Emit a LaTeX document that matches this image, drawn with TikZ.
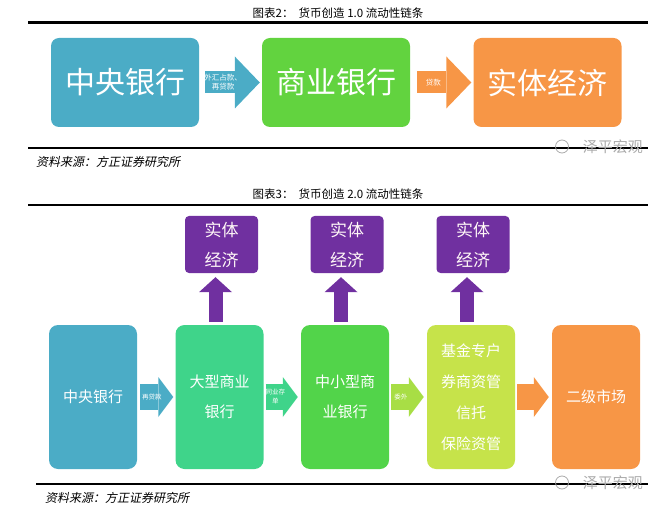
\documentclass[tikz,border=0pt]{standalone}
\usepackage{fontspec}
\newfontfamily\cjk{Noto Sans CJK SC}
\newfontfamily\cjkit[FakeSlant=0.2]{Noto Sans CJK SC}
\usetikzlibrary{arrows.meta,calc}
\definecolor{cblue}{HTML}{4BACC6}
\definecolor{cgreen}{HTML}{62D33F}
\definecolor{corange}{HTML}{F79646}
\definecolor{cpurple}{HTML}{7030A0}
\definecolor{cmint}{HTML}{3FD48A}
\definecolor{cgreentwo}{HTML}{52D44A}
\definecolor{clime}{HTML}{C6E34A}
\definecolor{climearrow}{HTML}{A8DE45}
\definecolor{cwater}{HTML}{ABABAB}
\begin{document}
\begin{tikzpicture}[x=1pt,y=-1pt,
  topbox/.style={rounded corners=8pt, minimum width=148pt, minimum height=89pt, text=white,
    font=\cjk\fontsize{30}{36}\selectfont, inner sep=0pt},
  botbox/.style={rounded corners=9pt, minimum width=88pt, minimum height=144pt, text=white,
    align=center, font=\cjk\fontsize{15}{30}\selectfont, inner sep=0pt},
  purplebox/.style={rounded corners=4pt, fill=cpurple, minimum width=73pt, minimum height=57pt,
    text=white!88!pink, align=center, font=\cjk\fontsize{17}{30}\selectfont, inner sep=0pt},
  bigarrow/.style={line width=22pt, -{Triangle[length=25pt,width=52pt,line width=0pt]}},
  smallarrow/.style={line width=26pt, -{Triangle[length=15pt,width=40pt,line width=0pt]}},
  uparrow/.style={line width=14pt, cpurple, -{Triangle[length=15pt,width=33pt,line width=0pt]}},
  arrowtext/.style={text=white, font=\cjk\fontsize{7.5}{9}\selectfont, align=center, inner sep=0pt},
  tinytext/.style={text=white, font=\cjk\fontsize{6.5}{9}\selectfont, align=center, inner sep=0pt},
  titletext/.style={font=\cjk\fontsize{11.5}{14}\selectfont, inner sep=0pt},
  sourcetext/.style={font=\cjkit\fontsize{12}{14}\selectfont, anchor=west, inner sep=0pt},
  watertext/.style={font=\cjk\fontsize{15}{18}\selectfont, text=cwater, anchor=east, inner sep=0pt},
  sepline/.style={line width=2.5pt}
]
\useasboundingbox (0,0) rectangle (668,510);

% ---------- chart 2 ----------
\node[titletext] (title2) at (338,13) {图表2：\ \ 货币创造 1.0 流动性链条};
\draw[sepline] (28,22.5) -- (648,22.5);

\node[topbox, fill=cblue]   (cb)  at (125,82.5) {中央银行};
\node[topbox, fill=cgreen]  (com) at (336,82.5) {商业银行};
\node[topbox, fill=corange] (re)  at (547.5,82.5) {实体经济};

\draw[bigarrow, cblue] ($(cb.east)+(6,0)$) -- ($(com.west)+(-2,0)$)
  node[arrowtext, pos=0.33] (t1) {外汇占款、\\再贷款};
\draw[bigarrow, corange] ($(com.east)+(7,0)$) -- ($(re.west)+(-2,0)$)
  node[arrowtext, pos=0.3] (t2) {贷款};

\draw[sepline] (28,148) -- (648,148);
\node[watertext] (wm1) at (643,146.5) {泽平宏观};
\draw[cwater, line width=0.8pt] (562,146.5) circle (6.5pt);
\node[sourcetext] (src1) at (36,162) {资料来源：方正证券研究所};

% ---------- chart 3 ----------
\node[titletext] (title3) at (338,194) {图表3：\ \ 货币创造 2.0 流动性链条};
\draw[sepline] (28,205) -- (648,205);

\node[purplebox] (p1) at (221.5,244.5) {实体\\经济};
\node[purplebox] (p2) at (347,244.5) {实体\\经济};
\node[purplebox] (p3) at (473,244.5) {实体\\经济};

\node[botbox, fill=cblue]     (a) at (93,397)    {中央银行};
\node[botbox, fill=cmint]     (b) at (219.5,397) {大型商业\\银行};
\node[botbox, fill=cgreentwo] (c) at (345,397)   {中小型商\\业银行};
\node[botbox, fill=clime, font=\cjk\fontsize{15}{31}\selectfont] (d) at (471,397) {基金专户\\券商资管\\信托\\保险资管};
\node[botbox, fill=corange]   (e) at (596,397)   {二级市场};

\draw[smallarrow, cblue] ($(a.east)+(3,0)$) -- ($(b.west)+(-2,0)$)
  node[tinytext, pos=0.35] (s1) {再贷款};
\draw[smallarrow, cmint] ($(b.east)+(2,0)$) -- ($(c.west)+(-3,0)$)
  node[tinytext, pos=0.3] (s2) {同业存\\单};
\draw[smallarrow, climearrow] ($(c.east)+(2,0)$) -- ($(d.west)+(-3,0)$)
  node[tinytext, pos=0.3] (s3) {委外};
\draw[smallarrow, corange] ($(d.east)+(2,0)$) -- ($(e.west)+(-3,0)$);

\draw[uparrow] ($(b.north)+(-4,-3)$) -- ($(p1.south)+(-6,4)$);
\draw[uparrow] ($(c.north)+(-4,-3)$) -- ($(p2.south)+(-6,4)$);
\draw[uparrow] ($(d.north)+(-4,-3)$) -- ($(p3.south)+(-6,4)$);

\draw[sepline] (36,484) -- (648,484);
\node[watertext] (wm2) at (643,482.5) {泽平宏观};
\draw[cwater, line width=0.8pt] (562,482.5) circle (6.5pt);
\node[sourcetext] (src2) at (45,498) {资料来源：方正证券研究所};
\end{tikzpicture}
\end{document}
